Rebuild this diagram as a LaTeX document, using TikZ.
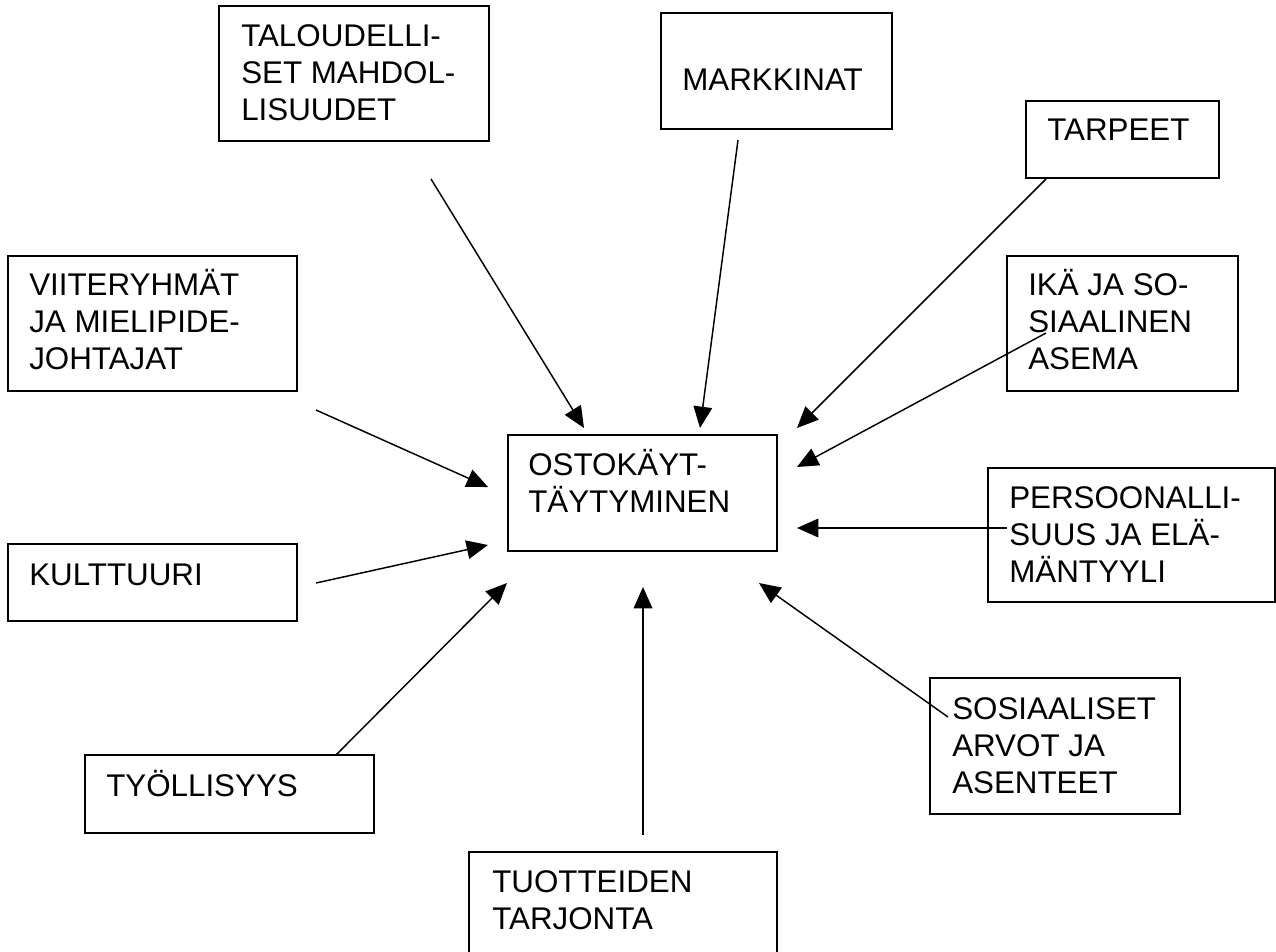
\documentclass[tikz,border=0pt]{standalone}
\usepackage{fontspec}
\setmainfont{Liberation Sans}
\usetikzlibrary{arrows.meta,fit}
\begin{document}
\begin{tikzpicture}[x=0.75pt,y=-0.75pt,
  box/.style={draw,line width=1.3pt,inner sep=0pt},
  lbl/.style={anchor=north west,inner sep=0pt,align=left,
    font=\fontsize{23.5pt}{27.5pt}\selectfont},
  arr/.style={-{Triangle[length=16pt,width=14pt]},line width=1.1pt}
]
\useasboundingbox (0,0) rectangle (1276,951);
% boxes
\node[box,fit={(219,6) (489,141)}] (tal) {};
\node[box,fit={(661,13) (892,129)}] (mark) {};
\node[box,fit={(1026,101) (1219,178)}] (tarp) {};
\node[box,fit={(8,256) (297,391)}] (viit) {};
\node[box,fit={(1007,256) (1238,391)}] (ika) {};
\node[box,fit={(508,435) (777,551)}] (osto) {};
\node[box,fit={(988,468) (1275,602)}] (pers) {};
\node[box,fit={(8,544) (297,621)}] (kult) {};
\node[box,fit={(930,678) (1180,814)}] (sos) {};
\node[box,fit={(85,755) (374,833)}] (tyo) {};
\node[box,fit={(469,852) (777,970)}] (tuot) {};
% texts
\node[lbl] (talT) at (241,16.4) {\rule{0pt}{22.5pt}TALOUDELLI-\\SET MAHDOL-\\LISUUDET};
\node[lbl] (markT) at (682,60.4) {\rule{0pt}{22.5pt}MARKKINAT};
\node[lbl] (tarpT) at (1047,110.4) {\rule{0pt}{22.5pt}TARPEET};
\node[lbl] (viitT) at (29,265.4) {\rule{0pt}{22.5pt}VIITERYHMÄT\\JA MIELIPIDE-\\JOHTAJAT};
\node[lbl] (ikaT) at (1028,265.4) {\rule{0pt}{22.5pt}IKÄ JA SO-\\SIAALINEN\\ASEMA};
\node[lbl] (ostoT) at (528,445.4) {\rule{0pt}{22.5pt}OSTOKÄYT-\\TÄYTYMINEN};
\node[lbl] (persT) at (1009,478.4) {\rule{0pt}{22.5pt}PERSOONALLI-\\SUUS JA ELÄ-\\MÄNTYYLI};
\node[lbl] (kultT) at (29,555.4) {\rule{0pt}{22.5pt}KULTTUURI};
\node[lbl] (sosT) at (952,689.4) {\rule{0pt}{22.5pt}SOSIAALISET\\ARVOT JA\\ASENTEET};
\node[lbl] (tyoT) at (106,766.4) {\rule{0pt}{22.5pt}TYÖLLISYYS};
\node[lbl] (tuotT) at (492,862.4) {\rule{0pt}{22.5pt}TUOTTEIDEN\\TARJONTA};
% arrow ends
\coordinate (talS) at (431,179);   \coordinate (talE) at (584,428);
\coordinate (markS) at (738,140);  \coordinate (markE) at (700,428);
\coordinate (tarpS) at (1046,179); \coordinate (tarpE) at (797,428);
\coordinate (ikaS) at (1046,333);  \coordinate (ikaE) at (797,467);
\coordinate (persS) at (1007,528); \coordinate (persE) at (797,528);
\coordinate (sosS) at (948,717);   \coordinate (sosE) at (759,583);
\coordinate (tuotS) at (643,835);  \coordinate (tuotE) at (643,587);
\coordinate (tyoS) at (336,755);   \coordinate (tyoE) at (507,583);
\coordinate (kultS) at (316,583);  \coordinate (kultE) at (488,545);
\coordinate (viitS) at (316,410);  \coordinate (viitE) at (488,487);
% arrows
\draw[arr] (talS) -- (talE);
\draw[arr] (markS) -- (markE);
\draw[arr] (tarpS) -- (tarpE);
\draw[arr] (ikaS) -- (ikaE);
\draw[arr] (persS) -- (persE);
\draw[arr] (sosS) -- (sosE);
\draw[arr] (tuotS) -- (tuotE);
\draw[arr] (tyoS) -- (tyoE);
\draw[arr] (kultS) -- (kultE);
\draw[arr] (viitS) -- (viitE);
\end{tikzpicture}
\end{document}
